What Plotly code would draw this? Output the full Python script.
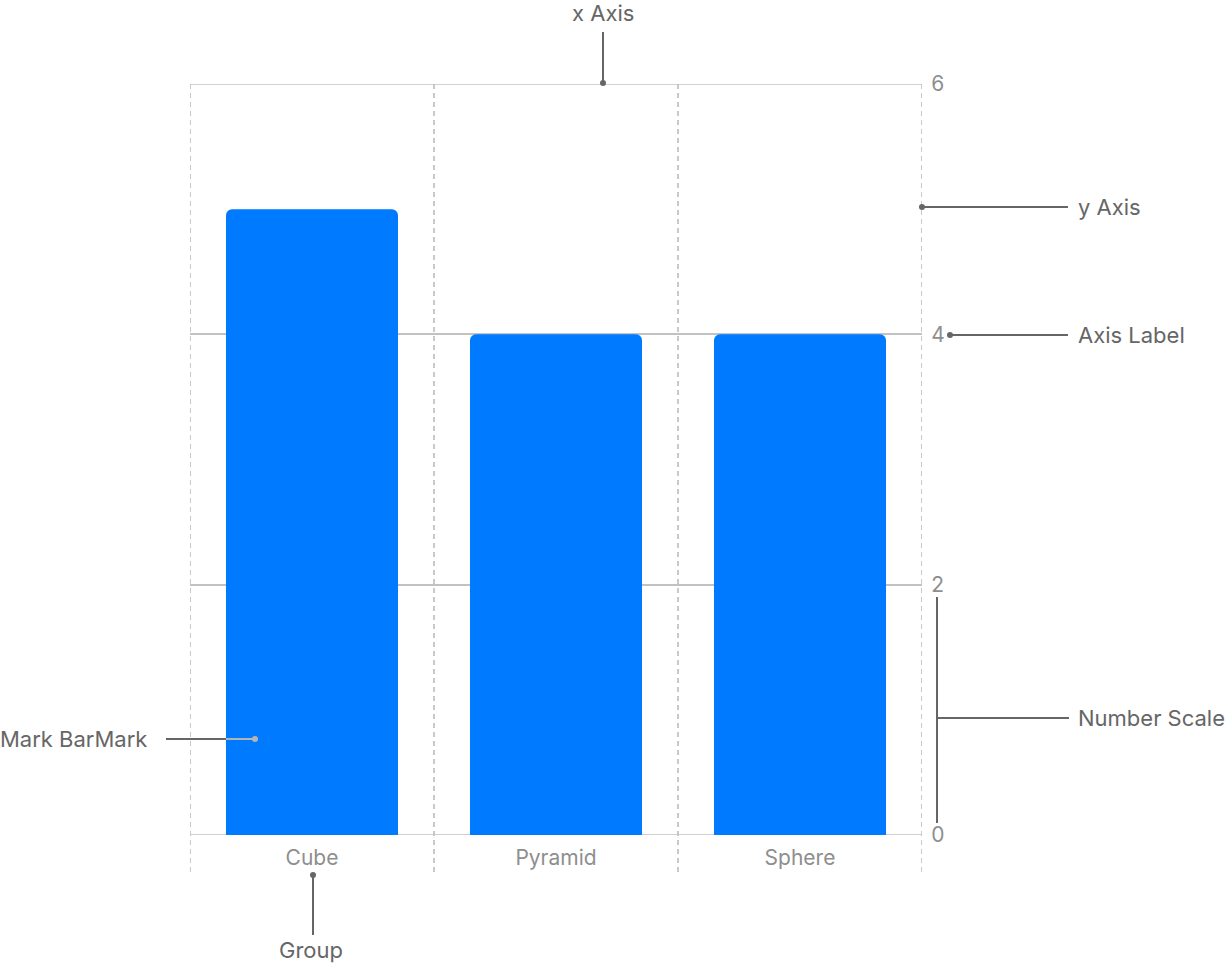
import plotly.graph_objects as go

# chart values
shapes_names = ["Cube", "Pyramid", "Sphere"]
counts = [5, 4, 4]
y_ticks = [0, 2, 4, 6]

W, H = 1226, 964
L, R, T, B = 190, 922, 84, 835  # plot area in pixels

DARK = "#666666"
GRID = "#c2c2c2"
TICK = "#8e8e8e"
FONT = "Inter, Roboto, sans-serif"


def px(x):
    return (x - L) / (R - L)


def py(y):
    return (B - y) / (B - T)


fig = go.Figure(go.Bar(
    x=shapes_names, y=counts,
    marker=dict(color="#007aff", cornerradius=6, line_width=0),
    width=0.705,
    hoverinfo="skip",
))

shapes = []
# dashed category separators
for k in [-0.5, 0.5, 1.5, 2.5]:
    shapes.append(dict(type="line", xref="x", yref="paper", x0=k, x1=k,
                       y0=py(872), y1=1, layer="below",
                       line=dict(color="#b8b8b8", width=1.5, dash="5px,4px")))
# grid lines on the range edges
for v in [y_ticks[0], y_ticks[-1]]:
    shapes.append(dict(type="line", xref="paper", yref="y", x0=0, x1=1, y0=v, y1=v,
                       layer="below", line=dict(color=GRID, width=1.5)))


def seg(x0, y0, x1, y1, color=DARK):
    shapes.append(dict(type="line", xref="paper", yref="paper",
                       x0=px(x0), y0=py(y0), x1=px(x1), y1=py(y1),
                       line=dict(color=color, width=2)))


def dot(x, y, color=DARK, r=3):
    shapes.append(dict(type="circle", xref="paper", yref="paper",
                       x0=px(x - r), x1=px(x + r), y0=py(y - r), y1=py(y + r),
                       fillcolor=color, line_width=0))


# callouts
seg(603, 32, 603, 83); dot(603, 83)
seg(922, 207, 1068, 207); dot(922, 207)
seg(950, 335, 1068, 335); dot(950, 335)
seg(937, 597, 937, 823); seg(937, 718, 1069, 718)
seg(313, 875, 313, 935); dot(313, 875)
seg(166, 739, 226, 739)
seg(226, 739, 255, 739, color="#b4b4b4"); dot(255, 739, color="#b4b4b4")

annotations = []


def label(text, x, y, xanchor="left"):
    annotations.append(dict(text=text, xref="paper", yref="paper",
                            x=px(x), y=py(y), xanchor=xanchor, yanchor="middle",
                            showarrow=False, font=dict(size=22, color=DARK, family=FONT)))


label("x Axis", 603, 13, "center")
label("y Axis", 1076, 207)
label("Axis Label", 1076, 335)
label("Number Scale", 1076, 718)
label("Group", 311, 950, "center")
label("Mark BarMark", -2, 739)

fig.update_layout(
    width=W, height=H,
    margin=dict(l=L, r=W - R, t=T, b=H - B, pad=0),
    paper_bgcolor="white", plot_bgcolor="white",
    showlegend=False,
    shapes=shapes, annotations=annotations,
    font=dict(family=FONT),
    xaxis=dict(showgrid=False, showline=False, zeroline=False,
               ticks="outside", ticklen=4, tickcolor="rgba(0,0,0,0)",
               tickfont=dict(size=21, color=TICK), range=[-0.5, 2.5]),
    yaxis=dict(side="right", range=[0, 6], tickvals=y_ticks,
               showgrid=True, gridcolor=GRID, gridwidth=1.5,
               zeroline=False, showline=False,
               ticks="outside", ticklen=4, tickcolor="rgba(0,0,0,0)",
               tickfont=dict(size=21, color=TICK)),
)

# drop the default page margin so the figure starts at the window corner
fig.write_html("out.html", config={"displayModeBar": False},
               post_script="document.body.style.margin = '0';")
